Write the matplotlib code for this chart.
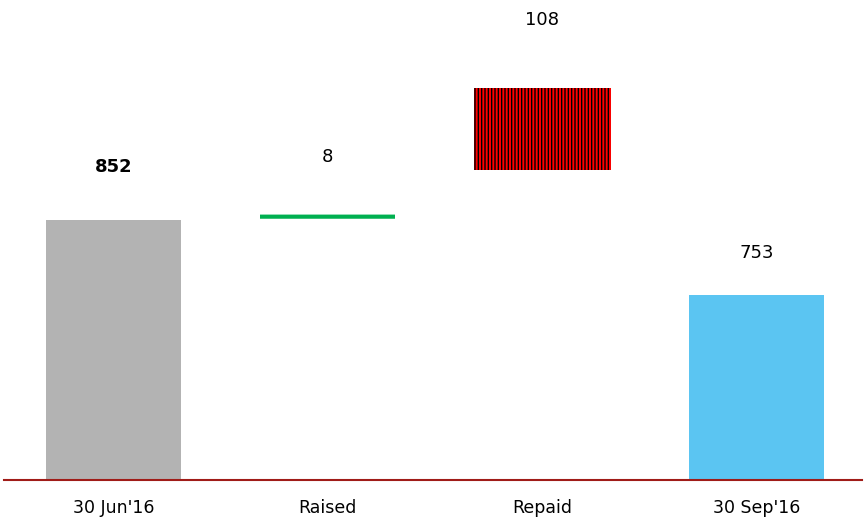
import matplotlib
matplotlib.use("Agg")
import matplotlib.pyplot as plt

plt.rcParams['font.family'] = ['DejaVu Sans']
plt.rcParams['hatch.linewidth'] = 1.0

# Debt movement, quarter to quarter
categories = ["30 Jun'16", "Raised", "Repaid", "30 Sep'16"]
values = [852, 8, 108, 753]
bar_base = [None, 852, 918, None]   # None -> starts at the axis floor
axis_floor = 509
axis_top = 1142

colors = ['#b3b3b3', '#00b050', '#ff0000', '#5bc5f2']
hatches = [None, '---', '|||||', None]
hatch_colors = [None, 'white', 'black', None]
label_weight = ['bold', 'normal', 'normal', 'normal']
label_offset = [38, 41, 49, 30]    # points above bar top
bar_width = [0.63, 0.63, 0.64, 0.63]

fig = plt.figure(figsize=(8.67, 5.23), dpi=100)
ax = fig.add_axes([4 / 867, 1 - 480 / 523, 858 / 867, 480 / 523])

x = range(len(categories))
for i in x:
    if bar_base[i] is None:
        bottom = axis_floor
        height = values[i] - axis_floor
    else:
        bottom = bar_base[i]
        height = values[i]
    ax.bar(i, height, bottom=bottom, width=bar_width[i], color=colors[i],
           hatch=hatches[i], edgecolor=hatch_colors[i] or colors[i],
           linewidth=0, zorder=2)
    ax.annotate(str(values[i]), (i, bottom + height),
                xytext=(0, label_offset[i]), textcoords='offset points',
                ha='center', va='center', fontsize=13,
                fontweight=label_weight[i], color='black')

ax.set_xlim(-0.51, 3.49)
ax.set_ylim(axis_floor, axis_top)
ax.set_xticks(list(x))
ax.set_xticklabels(categories, fontsize=12.5)
ax.tick_params(axis='x', length=0, pad=14)
ax.set_yticks([])
for s in ['top', 'left', 'right']:
    ax.spines[s].set_visible(False)
ax.spines['bottom'].set_color('#a01c18')
ax.spines['bottom'].set_linewidth(1.5)
ax.spines['bottom'].set_zorder(3)

fig.savefig('out.png', dpi=100)
